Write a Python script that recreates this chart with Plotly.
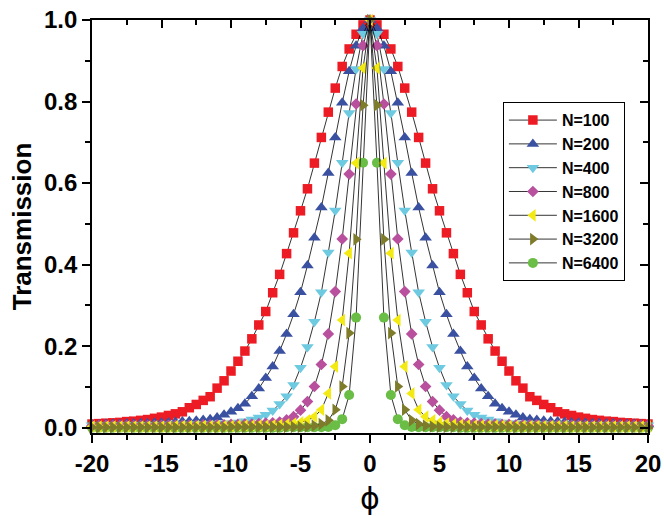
import plotly.graph_objects as go

# phase grid (phi), shared by all series
phi = [-20.0, -19.5, -19.0, -18.5, -18.0, -17.5, -17.0, -16.5, -16.0, -15.5,
       -15.0, -14.5, -14.0, -13.5, -13.0, -12.5, -12.0, -11.5, -11.0, -10.5,
       -10.0, -9.5, -9.0, -8.5, -8.0, -7.5, -7.0, -6.5, -6.0, -5.5,
       -5.0, -4.5, -4.0, -3.5, -3.0, -2.5, -2.0, -1.5, -1.0, -0.5,
       0.0,
       0.5, 1.0, 1.5, 2.0, 2.5, 3.0, 3.5, 4.0, 4.5, 5.0,
       5.5, 6.0, 6.5, 7.0, 7.5, 8.0, 8.5, 9.0, 9.5, 10.0,
       10.5, 11.0, 11.5, 12.0, 12.5, 13.0, 13.5, 14.0, 14.5, 15.0,
       15.5, 16.0, 16.5, 17.0, 17.5, 18.0, 18.5, 19.0, 19.5, 20.0]

t_n100 = [0.009, 0.010, 0.011, 0.012, 0.013, 0.015, 0.016, 0.018, 0.020, 0.023,
          0.026, 0.030, 0.034, 0.039, 0.049, 0.057, 0.067, 0.076, 0.097, 0.115,
          0.139, 0.163, 0.188, 0.218, 0.252, 0.285, 0.331, 0.376, 0.427, 0.478,
          0.532, 0.586, 0.649, 0.712, 0.774, 0.833, 0.886, 0.929, 0.965, 0.988,
          1.000,
          0.988, 0.965, 0.929, 0.886, 0.833, 0.774, 0.712, 0.649, 0.586, 0.532,
          0.478, 0.427, 0.376, 0.331, 0.285, 0.252, 0.218, 0.188, 0.163, 0.139,
          0.115, 0.097, 0.076, 0.067, 0.057, 0.049, 0.039, 0.034, 0.030, 0.026,
          0.023, 0.020, 0.018, 0.016, 0.015, 0.013, 0.012, 0.011, 0.010, 0.009]

t_n200 = [0.008, 0.008, 0.009, 0.009, 0.009, 0.010, 0.010, 0.011, 0.011, 0.012,
          0.012, 0.013, 0.014, 0.015, 0.016, 0.017, 0.019, 0.021, 0.025, 0.032,
          0.039, 0.048, 0.059, 0.077, 0.096, 0.122, 0.150, 0.188, 0.230, 0.278,
          0.332, 0.398, 0.466, 0.540, 0.625, 0.712, 0.797, 0.874, 0.937, 0.980,
          1.000,
          0.980, 0.937, 0.874, 0.797, 0.712, 0.625, 0.540, 0.466, 0.398, 0.332,
          0.278, 0.230, 0.188, 0.150, 0.122, 0.096, 0.077, 0.059, 0.048, 0.039,
          0.032, 0.025, 0.021, 0.019, 0.017, 0.016, 0.015, 0.014, 0.013, 0.012,
          0.012, 0.011, 0.011, 0.010, 0.010, 0.009, 0.009, 0.009, 0.008, 0.008]

t_n400 = [0.006, 0.006, 0.006, 0.006, 0.006, 0.006, 0.007, 0.007, 0.007, 0.007,
          0.007, 0.008, 0.008, 0.008, 0.008, 0.009, 0.009, 0.009, 0.010, 0.010,
          0.011, 0.013, 0.016, 0.020, 0.025, 0.032, 0.042, 0.058, 0.077, 0.105,
          0.147, 0.198, 0.260, 0.332, 0.430, 0.533, 0.650, 0.772, 0.880, 0.966,
          1.000,
          0.966, 0.880, 0.772, 0.650, 0.533, 0.430, 0.332, 0.260, 0.198, 0.147,
          0.105, 0.077, 0.058, 0.042, 0.032, 0.025, 0.020, 0.016, 0.013, 0.011,
          0.010, 0.010, 0.009, 0.009, 0.009, 0.008, 0.008, 0.008, 0.008, 0.007,
          0.007, 0.007, 0.007, 0.007, 0.006, 0.006, 0.006, 0.006, 0.006, 0.006]

t_n800 = [0.005, 0.005, 0.005, 0.005, 0.005, 0.005, 0.005, 0.005, 0.005, 0.005,
          0.006, 0.006, 0.006, 0.006, 0.006, 0.006, 0.007, 0.007, 0.007, 0.007,
          0.008, 0.008, 0.009, 0.009, 0.010, 0.011, 0.012, 0.014, 0.019, 0.027,
          0.043, 0.064, 0.101, 0.155, 0.230, 0.334, 0.463, 0.622, 0.794, 0.937,
          1.000,
          0.937, 0.794, 0.622, 0.463, 0.334, 0.230, 0.155, 0.101, 0.064, 0.043,
          0.027, 0.019, 0.014, 0.012, 0.011, 0.010, 0.009, 0.009, 0.008, 0.008,
          0.007, 0.007, 0.007, 0.007, 0.006, 0.006, 0.006, 0.006, 0.006, 0.006,
          0.005, 0.005, 0.005, 0.005, 0.005, 0.005, 0.005, 0.005, 0.005, 0.005]

t_n1600 = [0.003, 0.003, 0.003, 0.003, 0.003, 0.003, 0.003, 0.003, 0.003, 0.003,
           0.003, 0.003, 0.004, 0.004, 0.004, 0.004, 0.004, 0.004, 0.004, 0.004,
           0.004, 0.005, 0.005, 0.005, 0.005, 0.005, 0.006, 0.007, 0.008, 0.010,
           0.013, 0.018, 0.027, 0.044, 0.084, 0.150, 0.264, 0.428, 0.649, 0.882,
           1.000,
           0.882, 0.649, 0.428, 0.264, 0.150, 0.084, 0.044, 0.027, 0.018, 0.013,
           0.010, 0.008, 0.007, 0.006, 0.005, 0.005, 0.005, 0.005, 0.005, 0.004,
           0.004, 0.004, 0.004, 0.004, 0.004, 0.004, 0.004, 0.004, 0.003, 0.003,
           0.003, 0.003, 0.003, 0.003, 0.003, 0.003, 0.003, 0.003, 0.003, 0.003]

t_n3200 = [0.001, 0.001, 0.001, 0.001, 0.001, 0.001, 0.001, 0.001, 0.001, 0.001,
           0.001, 0.001, 0.001, 0.001, 0.001, 0.001, 0.001, 0.001, 0.001, 0.001,
           0.002, 0.002, 0.002, 0.002, 0.002, 0.002, 0.002, 0.002, 0.002, 0.002,
           0.002, 0.003, 0.005, 0.009, 0.018, 0.044, 0.101, 0.232, 0.462, 0.791,
           1.000,
           0.791, 0.462, 0.232, 0.101, 0.044, 0.018, 0.009, 0.005, 0.003, 0.002,
           0.002, 0.002, 0.002, 0.002, 0.002, 0.002, 0.002, 0.002, 0.002, 0.002,
           0.001, 0.001, 0.001, 0.001, 0.001, 0.001, 0.001, 0.001, 0.001, 0.001,
           0.001, 0.001, 0.001, 0.001, 0.001, 0.001, 0.001, 0.001, 0.001, 0.001]

t_n6400 = [0.000, 0.000, 0.000, 0.000, 0.000, 0.000, 0.000, 0.000, 0.000, 0.000,
           0.000, 0.000, 0.000, 0.000, 0.000, 0.000, 0.000, 0.000, 0.000, 0.000,
           0.000, 0.000, 0.000, 0.000, 0.000, 0.000, 0.000, 0.000, 0.001, 0.001,
           0.001, 0.001, 0.001, 0.001, 0.002, 0.006, 0.021, 0.080, 0.270, 0.650,
           1.000,
           0.650, 0.270, 0.080, 0.021, 0.006, 0.002, 0.001, 0.001, 0.001, 0.001,
           0.001, 0.001, 0.000, 0.000, 0.000, 0.000, 0.000, 0.000, 0.000, 0.000,
           0.000, 0.000, 0.000, 0.000, 0.000, 0.000, 0.000, 0.000, 0.000, 0.000,
           0.000, 0.000, 0.000, 0.000, 0.000, 0.000, 0.000, 0.000, 0.000, 0.000]

series_names = ["N=100", "N=200", "N=400", "N=800", "N=1600", "N=3200", "N=6400"]
series_values = [t_n100, t_n200, t_n400, t_n800, t_n1600, t_n3200, t_n6400]

x_tick_vals = [-20, -15, -10, -5, 0, 5, 10, 15, 20]
x_tick_text = ["-20", "-15", "-10", "-5", "0", "5", "10", "15", "20"]
y_tick_vals = [0.0, 0.2, 0.4, 0.6, 0.8, 1.0]
y_tick_text = ["0.0", "0.2", "0.4", "0.6", "0.8", "1.0"]

# marker styling per series
styles = [
    dict(symbol="square", color="#ED1C24", size=9.5),
    dict(symbol="triangle-up", color="#3A51A2", size=11),
    dict(symbol="triangle-down", color="#6DCAE0", size=11),
    dict(symbol="diamond", color="#B8509E", size=9),
    dict(symbol="triangle-left", color="#F3EA14", size=11),
    dict(symbol="triangle-right", color="#7E7B2B", size=11),
    dict(symbol="circle", color="#6ABD45", size=10),
]

FONT = "Liberation Sans, Arial, sans-serif"

fig = go.Figure()

# narrowest curve goes underneath, the rest stack from N=100 upward
draw_order = [6, 0, 1, 2, 3, 4, 5]
for i in draw_order:
    st = styles[i]
    fig.add_trace(go.Scatter(
        x=phi, y=series_values[i], name=series_names[i],
        mode="lines+markers",
        line=dict(color="black", width=0.8),
        marker=dict(symbol=st["symbol"], color=st["color"], size=st["size"],
                    line=dict(width=0)),
        legendrank=i + 1,
        cliponaxis=False,
    ))

# empty trace carrying the mirrored top/right frame axes
fig.add_trace(go.Scatter(x=[], y=[], xaxis="x2", yaxis="y2",
                         showlegend=False, hoverinfo="skip"))

axis_common = dict(showline=True, linecolor="black", linewidth=1.6,
                   showgrid=False, zeroline=False, tickcolor="black",
                   tickwidth=1.5, automargin=False)

fig.update_layout(
    width=664, height=516,
    margin=dict(l=92, r=16, t=20, b=83),
    paper_bgcolor="white", plot_bgcolor="white",
    font=dict(family=FONT, color="black"),
    xaxis=dict(range=[-20, 20], tickvals=x_tick_vals, ticktext=x_tick_text,
               ticks="outside", ticklen=8,
               minor=dict(ticks="outside", ticklen=5, dtick=2.5,
                          tickcolor="black", tickwidth=1.5),
               tickfont=dict(size=24, family=FONT, weight="bold"),
               title=dict(text="ϕ", font=dict(size=30, family="DejaVu Sans"),
                          standoff=20),
               **axis_common),
    yaxis=dict(range=[-0.013, 1.0], tickvals=y_tick_vals, ticktext=y_tick_text,
               ticks="outside", ticklen=8,
               minor=dict(ticks="outside", ticklen=5, dtick=0.1,
                          tickcolor="black", tickwidth=1.5),
               tickfont=dict(size=24, family=FONT, weight="bold"),
               title=dict(text="Transmission",
                          font=dict(size=26, family=FONT, weight="bold"),
                          standoff=5),
               **axis_common),
    xaxis2=dict(overlaying="x", side="top", anchor="y2", range=[-20, 20],
                tickvals=x_tick_vals, showticklabels=False,
                ticks="inside", ticklen=8,
                minor=dict(ticks="inside", ticklen=5, dtick=2.5,
                           tickcolor="black", tickwidth=1.5),
                **axis_common),
    yaxis2=dict(overlaying="y", side="right", anchor="x2", range=[-0.013, 1.0],
                tickvals=y_tick_vals, showticklabels=False,
                ticks="inside", ticklen=8,
                minor=dict(ticks="inside", ticklen=5, dtick=0.1,
                           tickcolor="black", tickwidth=1.5),
                **axis_common),
    legend=dict(x=0.739, y=0.801, xanchor="left", yanchor="top",
                bgcolor="white", bordercolor="black", borderwidth=1,
                font=dict(size=16, family=FONT, weight="bold"),
                itemwidth=48, tracegroupgap=0),
    showlegend=True,
)

fig.write_html("out.html")
